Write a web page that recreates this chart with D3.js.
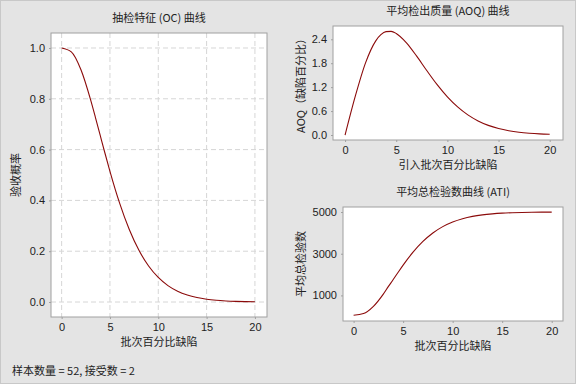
<!DOCTYPE html>
<html>
<head>
<meta charset="utf-8">
<script src="https://cdn.jsdelivr.net/npm/d3@7"></script>
<style>
  body { margin: 0; background: #e4e4e4; }
  svg { display: block; font-family: "Noto Sans CJK SC", "Noto Sans", sans-serif; }
  .tick text { font-size: 11px; fill: #222; }
</style>
</head>
<body>
<svg id="chart" width="576" height="384"></svg>
<script>
// 批次百分比缺陷 (%)
const pctDefect = [0, 1, 2, 3, 3.5, 4, 4.5, 5, 6, 7, 8, 9, 10, 11, 12, 13, 14, 15, 16, 17, 18, 19, 20];
// 验收概率
const probAccept = [1, 0.9847, 0.9141, 0.7954, 0.7261, 0.6547, 0.5836, 0.5146, 0.3892, 0.2853, 0.2034, 0.1417, 0.0966,
  0.0646, 0.0425, 0.0275, 0.0175, 0.0110, 0.0068, 0.0042, 0.0025, 0.0015, 0.0009];
// AOQ (缺陷百分比)
const aoq = [0, 0.974, 1.809, 2.361, 2.515, 2.591, 2.599, 2.546, 2.311, 1.976, 1.611, 1.262, 0.956,
  0.704, 0.504, 0.353, 0.242, 0.163, 0.108, 0.070, 0.045, 0.028, 0.018];
// 平均总检验数
const ati = [52, 128, 477, 1064, 1419, 1761, 2111, 2454, 3074, 3588, 3993, 4299, 4522,
  4680, 4790, 4864, 4913, 4946, 4966, 4979, 4988, 4993, 4996];

const xTicks = [0, 5, 10, 15, 20];
const ocTicks = [0, 0.2, 0.4, 0.6, 0.8, 1.0];
const aoqTicks = [0, 0.6, 1.2, 1.8, 2.4];
const atiTicks = [1000, 3000, 5000];

const svg = d3.select('#chart');
const lineColor = '#8b0a0a';

// 外框
svg.append('rect').attr('x', 0.5).attr('y', 0.5).attr('width', 575).attr('height', 383)
  .attr('fill', '#e4e4e4').attr('stroke', '#c8c8c8');

function panel(opt) {
  const x = d3.scaleLinear().domain(opt.xDom).range([opt.l, opt.r]);
  const y = d3.scaleLinear().domain(opt.yDom).range([opt.b, opt.t]);
  const g = svg.append('g');

  g.append('rect').attr('x', opt.l).attr('y', opt.t)
    .attr('width', opt.r - opt.l).attr('height', opt.b - opt.t)
    .attr('fill', '#fff');

  if (opt.grid) {
    g.selectAll('.gx').data(xTicks).enter().append('line')
      .attr('x1', d => x(d)).attr('x2', d => x(d)).attr('y1', opt.t).attr('y2', opt.b)
      .attr('stroke', '#d6d6d6').attr('stroke-dasharray', '5,3');
    g.selectAll('.gy').data(opt.yTicks).enter().append('line')
      .attr('y1', d => y(d)).attr('y2', d => y(d)).attr('x1', opt.l).attr('x2', opt.r)
      .attr('stroke', '#d6d6d6').attr('stroke-dasharray', '5,3');
  }

  const line = d3.line().x((d, i) => x(pctDefect[i])).y(d => y(d)).curve(d3.curveMonotoneX);
  g.append('path').datum(opt.values).attr('d', line)
    .attr('fill', 'none').attr('stroke', lineColor).attr('stroke-width', 1.1);

  g.append('rect').attr('x', opt.l).attr('y', opt.t)
    .attr('width', opt.r - opt.l).attr('height', opt.b - opt.t)
    .attr('fill', 'none').attr('stroke', '#a0a0a0');

  const ax = g.append('g').attr('transform', `translate(0,${opt.b})`)
    .call(d3.axisBottom(x).tickValues(xTicks).tickSize(2).tickPadding(4).tickFormat(d3.format('d')));
  const ay = g.append('g').attr('transform', `translate(${opt.l},0)`)
    .call(d3.axisLeft(y).tickValues(opt.yTicks).tickSize(2).tickPadding(4).tickFormat(opt.fmt));
  [ax, ay].forEach(a => {
    a.select('.domain').remove();
    a.selectAll('.tick line').attr('stroke', '#a0a0a0');
  });

  const cx = (opt.l + opt.r) / 2;
  g.append('text').attr('x', opt.titleX || cx).attr('y', opt.t - 11).attr('text-anchor', 'middle')
    .attr('font-size', 11).attr('fill', '#222').text(opt.title);
  g.append('text').attr('x', cx).attr('y', opt.b + 29).attr('text-anchor', 'middle')
    .attr('font-size', 11).attr('fill', '#222').text(opt.xLabel);
  g.append('text').attr('transform', `translate(${opt.yLabelX},${(opt.t + opt.b) / 2}) rotate(-90)`)
    .attr('text-anchor', 'middle').attr('font-size', 11).attr('fill', '#222').text(opt.yLabel);
}

panel({
  l: 51, r: 267, t: 33, b: 317,
  xDom: [-1.1, 21.25], yDom: [-0.059, 1.059],
  values: probAccept, yTicks: ocTicks, fmt: d3.format('.1f'), grid: true,
  title: '抽检特征 (OC) 曲线', xLabel: '批次百分比缺陷', yLabel: '验收概率', yLabelX: 20
});

panel({
  l: 333, r: 563, t: 26, b: 140,
  xDom: [-1.18, 21.3], yDom: [-0.125, 2.733],
  values: aoq, yTicks: aoqTicks, fmt: d3.format('.1f'), grid: false,
  title: '平均检出质量 (AOQ) 曲线', xLabel: '引入批次百分比缺陷', yLabel: 'AOQ（缺陷百分比）', yLabelX: 305
});

panel({
  l: 343, r: 563, t: 207, b: 321,
  xDom: [-1.07, 21.14], yDom: [-227, 5241],
  values: ati, yTicks: atiTicks, fmt: d3.format('d'), grid: false,
  title: '平均总检验数曲线 (ATI)', xLabel: '批次百分比缺陷', yLabel: '平均总检验数', yLabelX: 305
});

svg.append('text').attr('x', 12).attr('y', 375).attr('font-size', 11).attr('fill', '#222')
  .text('样本数量 = 52, 接受数 = 2');
</script>
</body>
</html>
